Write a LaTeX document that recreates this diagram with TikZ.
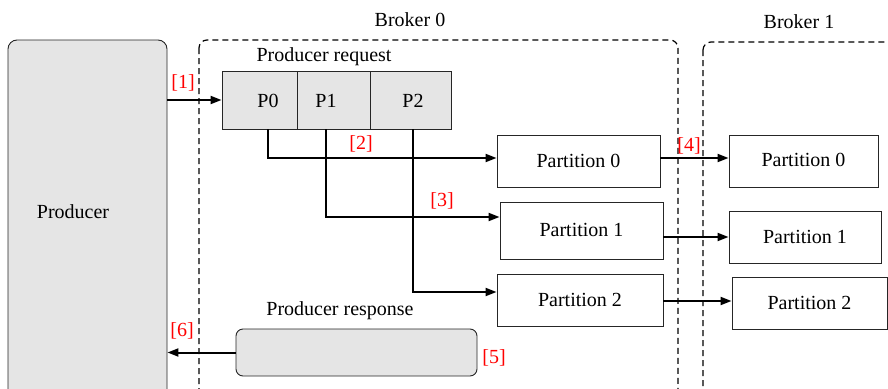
\documentclass[tikz,border=0pt]{standalone}
\usepackage{fontspec}
\setmainfont{Liberation Serif}
\usetikzlibrary{arrows.meta}
\begin{document}
\begin{tikzpicture}[x=1pt,y=-1pt,
  every node/.style={font=\fontsize{20}{24}\selectfont, inner sep=0pt},
  lbl/.style={text=red},
  frame/.style={draw=black, line width=1.2pt, dash pattern=on 6pt off 4pt, rounded corners=8pt},
  box/.style={draw=black!85, line width=0.9pt, rectangle},
  gbox/.style={box, fill=black!10},
  arr/.style={line width=2pt, -{Triangle[length=11pt,width=8pt]}}]
\useasboundingbox (0,0) rectangle (888,388);
\begin{scope}
\clip (0,0) rectangle (888,388);

% broker frames
\draw[frame] (199,40) rectangle (678,420);
\draw[frame] (703,42) rectangle (920,420);
\node (broker0) at (410,20) {Broker 0};
\node (broker1) at (799,22) {Broker 1};

% producer
\node[gbox, rounded corners=9pt, minimum width=159pt, minimum height=380pt] (producer) at (87.5,230) {};
\node (prodtxt) at (73,212) {Producer};

% producer request
\node (reqtxt) at (324,57) {Producer request};
\node[gbox, minimum width=75pt, minimum height=58pt] (c0) at (259.5,100) {};
\node[gbox, minimum width=73pt, minimum height=58pt] (c1) at (333.5,100) {};
\node[gbox, minimum width=81pt, minimum height=58pt] (c2) at (410.5,100) {};
\node (t0) at (268,101) {P0};
\node (t1) at (326,101) {P1};
\node (t2) at (413,101) {P2};

% partitions on broker 0
\node[box, minimum width=163pt, minimum height=52pt] (a0) at (578.5,161) {Partition 0};
\node[box, minimum width=163pt, minimum height=57pt] (a1) at (581.5,230.5) {\raisebox{2pt}{Partition 1}};
\node[box, minimum width=166pt, minimum height=52pt] (a2) at (580,300) {\raisebox{-2pt}{Partition 2}};

% partitions on broker 1
\node[box, minimum width=149pt, minimum height=52pt] (b0) at (803.5,161) {\raisebox{2pt}{Partition 0}};
\node[box, minimum width=152pt, minimum height=52pt] (b1) at (805,237) {Partition 1};
\node[box, minimum width=155pt, minimum height=52pt] (b2) at (809.5,303) {Partition 2};

% producer response
\node (resptxt) at (340,311) {Producer response};
\node[gbox, rounded corners=7pt, minimum width=241pt, minimum height=47pt] (resp) at (356.5,352.5) {};

% connectors
\draw[arr] (producer.east |- c0.west) -- (c0.west);
\draw[arr] (t0 |- c0.south) |- ([yshift=3pt]a0.west);
\draw[arr] (t1 |- c1.south) |- ([yshift=13.5pt]a1.west);
\draw[arr] (t2 |- c2.south) |- ([yshift=8pt]a2.west);
\draw[arr] ([yshift=3pt]a0.east) -- ([yshift=3pt]b0.west);
\draw[arr] (a1.east |- b1.west) -- (b1.west);
\draw[arr] ([yshift=2pt]a2.east |- b2.west) -- ([yshift=2pt]b2.west);
\draw[arr] (resp.west) -- (producer.east |- resp.west);

% step labels
\node[lbl] (s1) at (183,83) {[1]};
\node[lbl] (s2) at (361,144) {[2]};
\node[lbl] (s3) at (442,201) {[3]};
\node[lbl] (s4) at (689,146) {[4]};
\node[lbl] (s5) at (494,358) {[5]};
\node[lbl] (s6) at (182,331) {[6]};
\end{scope}
\end{tikzpicture}
\end{document}
